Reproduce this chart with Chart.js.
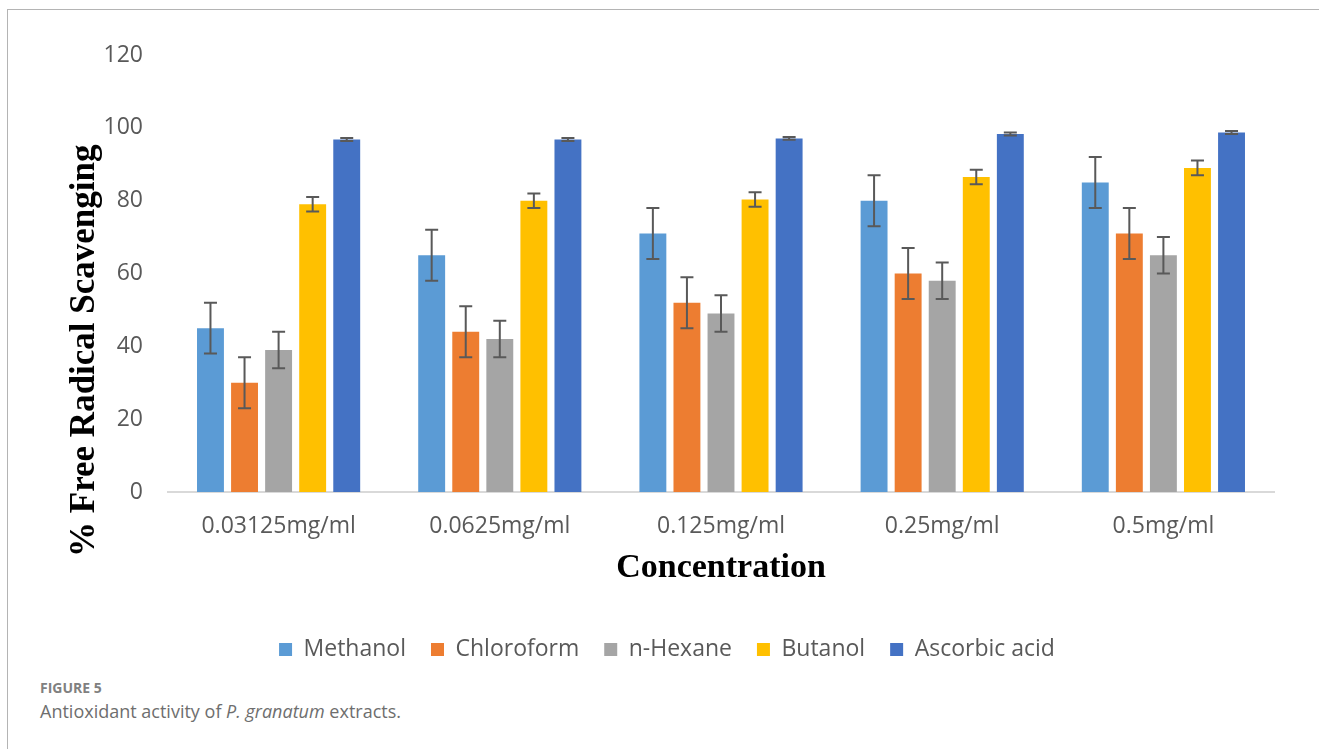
<!DOCTYPE html>
<html lang="en">
  <head>
    <meta charset="UTF-8" />
    <script src="https://cdn.jsdelivr.net/npm/chart.js"></script>
    <title>Antioxidant activity</title>
    <style>
      body { margin: 0; background: #fff; width: 1319px; height: 749px; overflow: hidden; position: relative; }
      #frame { position: absolute; left: 7px; top: 9px; right: -5px; bottom: -5px; border-left: 1.5px solid #b4b4b4; border-top: 1.5px solid #b4b4b4; }
      #wrap { position: absolute; left: 0; top: 0; width: 1319px; height: 671px; }
      .fig { position: absolute; left: 40px; font-family: "Open Sans", sans-serif; color: #6e6e6e; }
      #figno { top: 678px; font-size: 14px; font-weight: 700; color: #808080; }
      #figcap { top: 699px; font-size: 18px; }
    </style>
  </head>
  <body>
    <div id="frame"></div>
    <div id="wrap"><canvas id="chart"></canvas></div>
    <div class="fig" id="figno">FIGURE 5</div>
    <div class="fig" id="figcap">Antioxidant activity of <i>P. granatum</i> extracts.</div>

    <script>
      const categories = ["0.03125mg/ml", "0.0625mg/ml", "0.125mg/ml", "0.25mg/ml", "0.5mg/ml"];

      const methanol = [45, 65, 71, 80, 85];
      const chloroform = [30, 44, 52, 60, 71];
      const hexane = [39, 42, 49, 58, 65];
      const butanol = [79, 80, 80.3, 86.5, 89];
      const ascorbic = [96.8, 96.8, 97.1, 98.3, 98.7];

      // error bars (+/-)
      const methanolErr = [7, 7, 7, 7, 7];
      const chloroformErr = [7, 7, 7, 7, 7];
      const hexaneErr = [5, 5, 5, 5, 5];
      const butanolErr = [2, 2, 2, 2, 2];
      const ascorbicErr = [0.4, 0.4, 0.4, 0.4, 0.4];

      const yTicks = [0, 20, 40, 60, 80, 100, 120];

      const grey = "#595959";

      // draws the error bars on top of every bar, using the y scale
      const errorBars = {
        id: "errorBars",
        afterDatasetsDraw(chart) {
          const ctx = chart.ctx;
          const y = chart.scales.y;
          ctx.save();
          ctx.strokeStyle = grey;
          ctx.lineWidth = 2;
          chart.data.datasets.forEach((ds, i) => {
            const meta = chart.getDatasetMeta(i);
            meta.data.forEach((bar, j) => {
              const v = ds.data[j];
              const e = ds.errors[j];
              const top = y.getPixelForValue(v + e);
              const bot = y.getPixelForValue(v - e);
              const cap = 6.5;
              ctx.beginPath();
              ctx.moveTo(bar.x, top);
              ctx.lineTo(bar.x, bot);
              ctx.moveTo(bar.x - cap, top);
              ctx.lineTo(bar.x + cap, top);
              ctx.moveTo(bar.x - cap, bot);
              ctx.lineTo(bar.x + cap, bot);
              ctx.stroke();
            });
          });
          ctx.restore();
        }
      };

      // y axis title sits a bit lower than the plot centre in the original
      const yTitle = {
        id: "yTitle",
        afterDraw(chart) {
          const ctx = chart.ctx;
          const area = chart.chartArea;
          ctx.save();
          ctx.translate(area.left - 83, area.bottom + 65);
          ctx.rotate(-Math.PI / 2);
          ctx.font = "bold 35px 'Liberation Serif', 'Times New Roman', serif";
          ctx.fillStyle = "#000";
          ctx.textAlign = "left";
          ctx.textBaseline = "middle";
          ctx.fillText("% Free Radical Scavenging", 0, 0);
          ctx.restore();
        }
      };

      const ctx = document.getElementById("chart").getContext("2d");
      const myChart = new Chart(ctx, {
        type: "bar",
        data: {
          labels: categories,
          datasets: [
            { label: "Methanol", data: methanol, errors: methanolErr, backgroundColor: "#5B9BD5" },
            { label: "Chloroform", data: chloroform, errors: chloroformErr, backgroundColor: "#ED7D31" },
            { label: "n-Hexane", data: hexane, errors: hexaneErr, backgroundColor: "#A5A5A5" },
            { label: "Butanol", data: butanol, errors: butanolErr, backgroundColor: "#FFC000" },
            { label: "Ascorbic acid", data: ascorbic, errors: ascorbicErr, backgroundColor: "#4472C4" }
          ]
        },
        options: {
          responsive: true,
          maintainAspectRatio: false,
          animation: false,
          datasets: {
            bar: { categoryPercentage: 0.77, barPercentage: 0.79 }
          },
          layout: { padding: { left: 60, right: 45, top: 55, bottom: 0 } },
          plugins: {
            legend: {
              position: "bottom",
              labels: {
                boxWidth: 13,
                boxHeight: 13,
                padding: 25,
                color: grey,
                font: { family: "'Open Sans', sans-serif", size: 23 }
              }
            },
            tooltip: { enabled: false }
          },
          scales: {
            x: {
              grid: { display: false },
              border: { display: true, color: "#d9d9d9", width: 2 },
              ticks: {
                color: grey,
                padding: 13,
                font: { family: "'Open Sans', sans-serif", size: 23 }
              },
              title: {
                display: true,
                text: "Concentration",
                color: "#000",
                padding: { top: 8, bottom: 24 },
                font: { family: "'Liberation Serif', 'Times New Roman', serif", size: 34, weight: "bold" }
              },
              afterFit(scale) { scale.height = 121; }
            },
            y: {
              min: 0,
              max: 120,
              afterBuildTicks(scale) { scale.ticks = yTicks.map((v) => ({ value: v })); },
              grid: { display: false },
              border: { display: false },
              ticks: {
                color: grey,
                padding: 17,
                font: { family: "'Open Sans', sans-serif", size: 23 }
              },
              afterFit(scale) { scale.width = 108; }
            }
          }
        },
        plugins: [errorBars, yTitle]
      });
    </script>
  </body>
</html>
